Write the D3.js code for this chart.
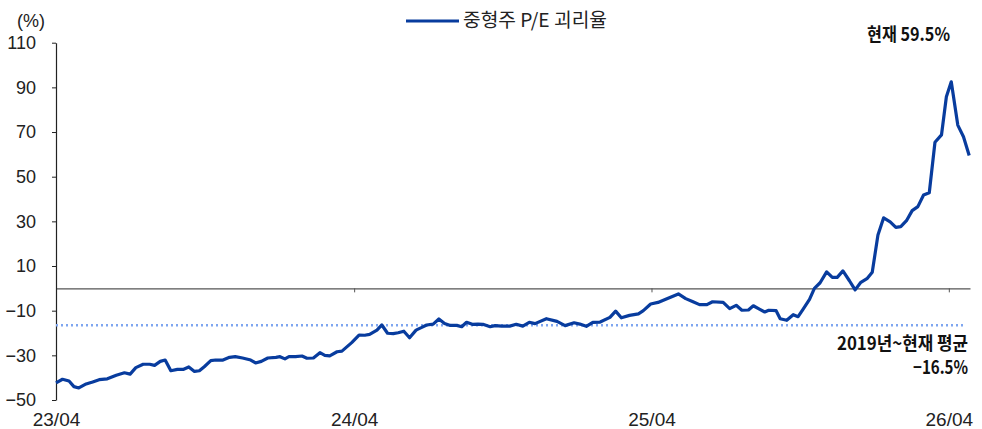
<!DOCTYPE html>
<html>
<head>
<meta charset="utf-8">
<script src="https://cdn.jsdelivr.net/npm/d3@7"></script>
<style>
  html, body { margin: 0; padding: 0; background: #fff; }
  svg { display: block; }
  .num { font-family: "Liberation Sans Narrow", "Arial Narrow", "Liberation Sans", sans-serif; }
  .kr { font-family: "Liberation Sans Narrow", "Noto Sans CJK KR", sans-serif; }
</style>
</head>
<body>
<svg id="chart" width="982" height="429"></svg>
<script>
// ---------------- data ----------------
const seriesName = "중형주 P/E 괴리율";
const dates = [
  "2023-04-01","2023-04-09","2023-04-17","2023-04-23","2023-04-29","2023-05-08","2023-05-16","2023-05-24",
  "2023-06-03","2023-06-14","2023-06-24","2023-07-01","2023-07-08","2023-07-17","2023-07-25","2023-07-31",
  "2023-08-07","2023-08-13","2023-08-20","2023-08-28","2023-09-04","2023-09-11","2023-09-18","2023-09-24",
  "2023-09-30","2023-10-08","2023-10-14","2023-10-23","2023-10-31","2023-11-07","2023-11-16","2023-11-26",
  "2023-12-02","2023-12-09","2023-12-17","2023-12-27","2024-01-01","2024-01-07","2024-01-12","2024-01-20",
  "2024-01-28","2024-02-03","2024-02-11","2024-02-19","2024-02-25","2024-03-02","2024-03-11","2024-03-17",
  "2024-03-29","2024-04-07","2024-04-14","2024-04-20","2024-04-29","2024-05-05","2024-05-12","2024-05-19",
  "2024-05-25","2024-06-01","2024-06-08","2024-06-16","2024-06-23","2024-06-29","2024-07-07","2024-07-14",
  "2024-07-21","2024-07-28","2024-08-05","2024-08-11","2024-08-17","2024-08-24","2024-08-31","2024-09-06",
  "2024-09-15","2024-09-21","2024-09-29","2024-10-09","2024-10-17","2024-10-25","2024-11-02","2024-11-09",
  "2024-11-23","2024-12-06","2024-12-16","2024-12-27","2025-01-03","2025-01-11","2025-01-19","2025-01-28",
  "2025-02-09","2025-02-16","2025-02-23","2025-03-05","2025-03-16","2025-03-22","2025-03-31","2025-04-09",
  "2025-04-17","2025-05-04","2025-05-13","2025-05-22","2025-05-30","2025-06-08","2025-06-15","2025-06-28",
  "2025-07-06","2025-07-14","2025-07-21","2025-07-29","2025-08-04","2025-08-12","2025-08-18","2025-08-23",
  "2025-09-01","2025-09-06","2025-09-14","2025-09-22","2025-09-28","2025-10-04","2025-10-12","2025-10-18",
  "2025-10-25","2025-11-02","2025-11-09","2025-11-15","2025-11-22","2025-11-30","2025-12-07","2025-12-14",
  "2025-12-22","2025-12-28","2026-01-04","2026-01-11","2026-01-19","2026-01-26","2026-02-01","2026-02-08",
  "2026-02-15","2026-02-22","2026-03-01","2026-03-08","2026-03-15","2026-03-23","2026-03-29","2026-04-04",
  "2026-04-12","2026-04-19","2026-04-26"
];
const values = [
  -42.3,-40.7,-41.5,-44.0,-44.6,-42.8,-41.9,-40.9,
  -40.5,-38.9,-37.8,-38.4,-35.5,-34.0,-34.0,-34.5,
  -32.7,-32.1,-36.9,-36.3,-36.3,-35.2,-37.2,-36.9,
  -35.1,-32.4,-32.1,-32.1,-30.9,-30.6,-31.2,-32.1,
  -33.4,-32.7,-31.2,-30.9,-30.6,-31.6,-30.6,-30.6,
  -30.3,-31.3,-31.2,-28.8,-30.0,-30.2,-28.4,-28.1,
  -24.3,-20.9,-21.0,-20.6,-18.7,-16.4,-20.1,-20.3,
  -19.9,-19.2,-22.1,-18.7,-17.5,-16.4,-16.0,-13.7,
  -15.7,-16.6,-16.6,-17.2,-15.2,-16.1,-16.0,-16.1,
  -17.2,-16.7,-16.9,-16.9,-16.1,-16.9,-15.2,-15.8,
  -13.6,-14.8,-16.7,-15.4,-16.0,-17.0,-15.2,-15.1,
  -13.0,-10.2,-13.2,-12.1,-11.4,-10.0,-7.0,-6.3,
  -5.1,-2.5,-4.6,-6.0,-7.3,-7.3,-6.0,-6.3,
  -9.1,-7.6,-9.8,-9.7,-7.8,-9.4,-10.6,-9.8,
  -10.0,-13.6,-14.3,-11.8,-12.7,-9.4,-4.9,0.0,
  2.5,7.4,4.9,4.9,7.8,3.4,-0.7,2.7,
  4.5,7.2,23.9,31.6,29.8,27.3,27.6,30.3,
  34.8,36.6,41.8,42.8,65.4,68.7,85.8,92.5,
  73.1,67.9,59.5
];
const yTicks = [110, 90, 70, 50, 30, 10, -10, -30, -50];
const xTickDates = ["2023-04-01", "2024-04-01", "2025-04-01", "2026-04-01"];
const xTickLabels = ["23/04", "24/04", "25/04", "26/04"];
const xDomain = ["2023-04-01", "2026-04-27"];
const yDomain = [-50, 110];
const averageValue = -16.5;
const currentValue = 59.5;
const currentLabel = "현재 59.5%";
const averageLabel = ["2019년~현재 평균", "−16.5%"];
const unitLabel = "(%)";

// ---------------- chart ----------------
const parse = d3.timeParse("%Y-%m-%d");
const data = dates.map((d, i) => ({ date: parse(d), value: values[i] }));

const svg = d3.select("#chart");
const plotLeft = 56, plotRight = 970, plotTop = 42.7, plotBottom = 400;

const x = d3.scaleTime().domain(xDomain.map(parse)).range([plotLeft, plotRight]);
const y = d3.scaleLinear().domain(yDomain).range([plotBottom, plotTop]);
const fmt = d => (d < 0 ? "\u2212" + Math.abs(d) : String(d));

// zero baseline with downward ticks
const xAxisZero = d3.axisBottom(x)
  .tickValues(xTickDates.map(parse))
  .tickSize(4).tickSizeOuter(0)
  .tickFormat("");
const gz = svg.append("g").attr("transform", `translate(0,${y(0)})`).call(xAxisZero);
gz.select(".domain").attr("stroke", "#555").attr("stroke-width", 1.2);
gz.selectAll(".tick line").attr("stroke", "#555");

// x tick labels at bottom
const xAxisLabels = d3.axisBottom(x)
  .tickValues(xTickDates.map(parse))
  .tickSize(0).tickPadding(13)
  .tickFormat((d, i) => xTickLabels[i]);
const gx = svg.append("g").attr("transform", `translate(0,${plotBottom})`).call(xAxisLabels);
gx.select(".domain").remove();
gx.selectAll("text").attr("class", "num").attr("font-size", 19).attr("fill", "#222");

// y axis
const yAxis = d3.axisLeft(y).tickValues(yTicks).tickSize(4).tickSizeOuter(0).tickPadding(16).tickFormat(fmt);
const gy = svg.append("g").attr("transform", `translate(${plotLeft},0)`).call(yAxis);
gy.select(".domain").attr("stroke", "#222").attr("stroke-width", 1.2);
gy.selectAll(".tick line").attr("stroke", "#222");
gy.selectAll("text").attr("class", "num").attr("font-size", 18).attr("fill", "#222");

// unit label
svg.append("text").attr("class", "num").attr("x", 17).attr("y", 27)
  .attr("font-size", 18).attr("fill", "#222").text(unitLabel);

// average dotted line
svg.append("line")
  .attr("x1", plotLeft).attr("x2", 966)
  .attr("y1", y(averageValue)).attr("y2", y(averageValue))
  .attr("stroke", "#7fa6f0").attr("stroke-width", 2.5)
  .attr("stroke-dasharray", "2,3");

// series line
const line = d3.line().x(d => x(d.date)).y(d => y(d.value)).curve(d3.curveLinear);
svg.append("path").datum(data)
  .attr("d", line)
  .attr("fill", "none")
  .attr("stroke", "#083c9e")
  .attr("stroke-width", 3.2)
  .attr("stroke-linejoin", "round");

// legend
svg.append("line").attr("x1", 406).attr("x2", 459).attr("y1", 21).attr("y2", 21)
  .attr("stroke", "#083c9e").attr("stroke-width", 3.2);
svg.append("text").attr("x", 463).attr("y", 27)
  .attr("font-family", "'Noto Sans CJK KR', sans-serif")
  .attr("font-size", 19).attr("fill", "#222")
  .attr("textLength", 144).attr("lengthAdjust", "spacingAndGlyphs")
  .text(seriesName);

// annotations
function annot(txt, xr, yb, w) {
  svg.append("text").attr("class", "kr").attr("x", xr - w).attr("y", yb)
    .attr("font-weight", "bold").attr("font-size", 18).attr("fill", "#111")
    .attr("textLength", w).attr("lengthAdjust", "spacingAndGlyphs")
    .text(txt);
}
annot(currentLabel, 950, 41, 83);
annot(averageLabel[0], 968, 350, 131);
annot(averageLabel[1], 968, 374, 55);
</script>
</body>
</html>
